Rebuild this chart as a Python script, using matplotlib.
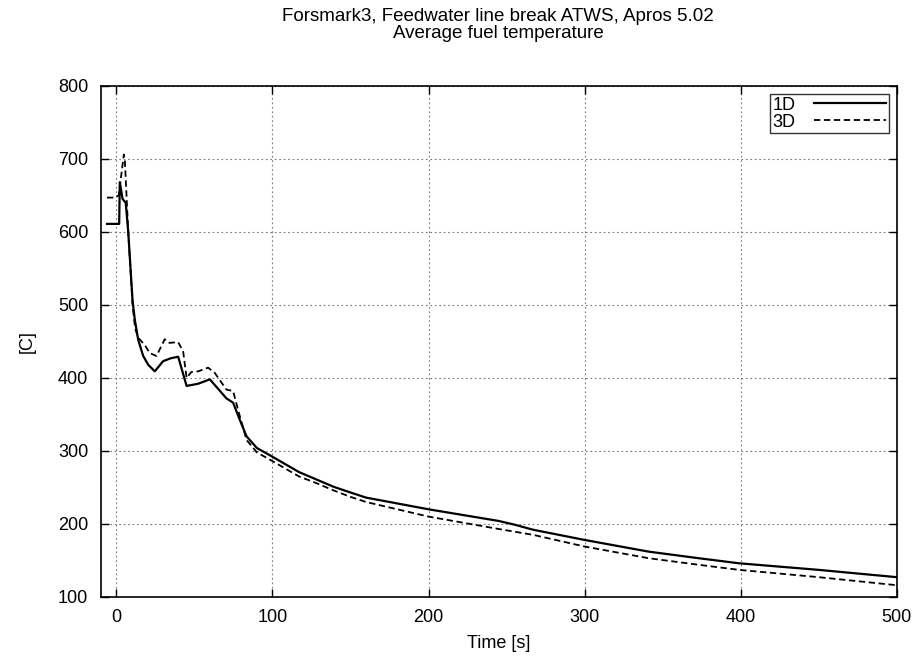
import numpy as np
import matplotlib.pyplot as plt

plt.rcParams['font.family'] = ['Liberation Sans', 'DejaVu Sans']

# 1D model, average fuel temperature
t_1d = [-6, 1.8, 2.2, 4, 6, 7.6, 10.4, 11.8, 14, 17.2, 20.4, 24.6, 30, 35, 39.6, 45,
        52.4, 59.9, 70.5, 74.8, 79, 83.4, 90, 100, 117, 128, 139, 150, 160, 200,
        245, 255, 267, 300, 341, 373, 399, 450, 500]
temp_1d = [611, 611, 668, 645, 640, 600, 505, 480, 452, 430, 418, 409, 423, 427, 429, 389,
           392, 398, 372, 366, 343, 320, 304, 292, 271, 261, 251, 243, 236, 220,
           204, 199, 192, 178, 162, 153, 146, 137, 127]

# 3D model
t_3d = [-6, -1, 1.5, 4.8, 5.4, 7.6, 10.4, 12, 14, 18.2, 21.4, 25.7, 31, 34, 39.6, 42.8,
        45, 48, 52.4, 58.8, 63, 70.5, 74.8, 78, 83.4, 90, 100, 117, 128, 139, 150,
        160, 200, 245, 267, 300, 341, 373, 399, 450, 500]
temp_3d = [647, 647, 650, 706, 700, 600, 500, 468, 455, 445, 434, 430, 453, 448, 449, 436,
           400, 408, 409, 414, 407, 384, 382, 356, 315, 298, 286, 265, 256, 246, 237,
           230, 210, 193, 185, 169, 153, 144, 137, 127, 116]

fig = plt.figure(figsize=(9.16, 6.61), dpi=100)
ax = fig.add_axes([0.110, 0.097, 0.869, 0.773])

ax.plot(t_1d, temp_1d, color='black', lw=1.6, label='1D')
ax.plot(t_3d, temp_3d, color='black', lw=1.3, ls=(0, (3.5, 2)), label='3D')

ax.set_xlim(-10, 500)
ax.set_ylim(100, 800)
ax.set_xticks(np.arange(0, 501, 100))
ax.set_yticks(np.arange(100, 801, 100))
ax.tick_params(direction='in', length=6, width=1, top=True, right=True, labelsize=13, pad=9)
ax.grid(True, color='#777777', ls=(0, (1.5, 2.5)), lw=0.8)
for s in ax.spines.values():
    s.set_linewidth(1.2)

ax.set_xlabel('Time [s]', fontsize=13, labelpad=6)
ax.set_ylabel('[C]', fontsize=13, labelpad=16)
fig.text(0.544, 0.962, 'Forsmark3, Feedwater line break ATWS, Apros 5.02\nAverage fuel temperature',
         ha='center', va='center', fontsize=13.5, linespacing=1.0)

leg = ax.legend(loc='upper right', markerfirst=False, fontsize=13, frameon=True,
                fancybox=False, borderpad=0.15, handlelength=4.0, labelspacing=0.0,
                handletextpad=1.0, borderaxespad=0.45)
leg.get_frame().set_edgecolor('black')
leg.get_frame().set_linewidth(1.0)

fig.savefig('out.png', dpi=100)
